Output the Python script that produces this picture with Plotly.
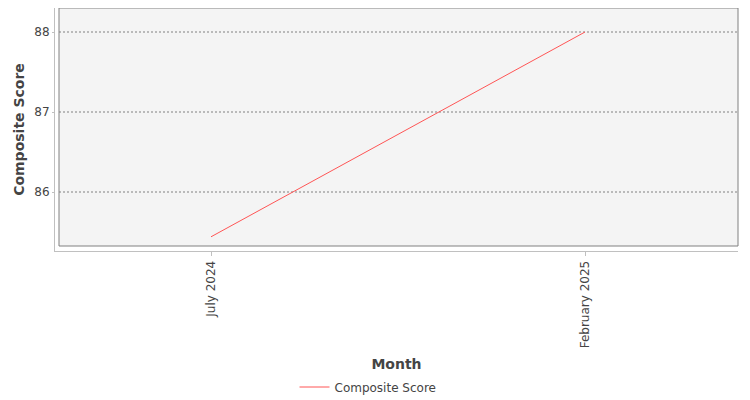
import plotly.graph_objects as go

# data
months = ["July 2024", "February 2025"]
composite_score = [85.44, 88.0]
y_ticks = [86, 87, 88]

# the page body adds an 8px margin, so the figure is drawn 8px smaller
# and its top/left margins are trimmed to land where the reference sits
W, H = 742, 392

fig = go.Figure()

fig.add_trace(go.Scatter(
    x=months,
    y=composite_score,
    mode="lines",
    name="Composite Score",
    line=dict(color="#ff5555", width=1),
    showlegend=True,
))

# shaded plot box, inset a few pixels from the axis lines (JFreeChart look)
fig.add_shape(type="rect", xref="paper", yref="paper",
              x0=4 / 683, x1=1, y0=5 / 243, y1=1,
              fillcolor="#f4f4f4", line=dict(color="#808080", width=1),
              layer="below")

# dashed gridlines only inside the box
for v in y_ticks:
    fig.add_shape(type="line", xref="paper", yref="y",
                  x0=4 / 683, x1=1, y0=v, y1=v,
                  line=dict(color="#808080", width=1, dash="2px,2px"),
                  layer="below")

fig.update_layout(
    width=W,
    height=H,
    margin=dict(l=47, r=12, t=0, b=149),
    paper_bgcolor="white",
    plot_bgcolor="white",
    font=dict(family="DejaVu Sans", color="#444444", size=12),
    showlegend=True,
    legend=dict(
        orientation="h",
        xref="container", yref="container",
        x=(368 - 8) / W, xanchor="center",
        y=1 - (387 - 8) / H, yanchor="middle",
        font=dict(size=12, color="#444444"),
        itemwidth=30,
    ),
)

fig.update_xaxes(
    type="category",
    range=[-156 / 374, 1 + 153 / 374],
    showgrid=False,
    showline=True, linecolor="#c0c0c0", linewidth=1,
    ticks="outside", ticklen=4, tickcolor="#c0c0c0",
    tickangle=-90,
    tickfont=dict(size=12, color="#444444"),
    title=dict(text="<b>Month</b>", font=dict(size=14, color="#444444"), standoff=11),
    zeroline=False,
)

fig.update_yaxes(
    range=[86 - 59 / 80, 88 + 24 / 80],
    tickvals=y_ticks,
    showgrid=False,
    showline=True, linecolor="#c0c0c0", linewidth=1,
    ticks="outside", ticklen=2, tickcolor="#c0c0c0",
    tickfont=dict(size=12, color="#444444"),
    title=dict(text="<b>Composite Score</b>", font=dict(size=14, color="#444444"), standoff=6),
    zeroline=False,
)

fig.write_html("out.html")
